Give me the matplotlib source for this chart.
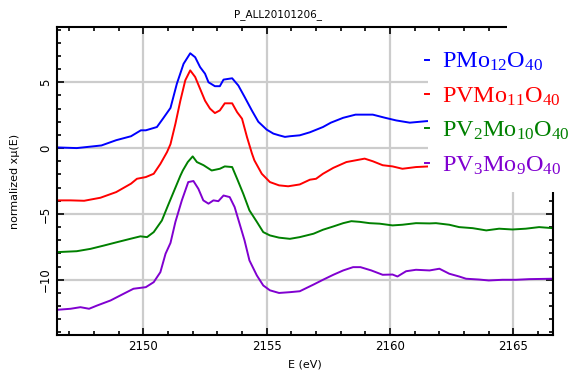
import matplotlib
matplotlib.use("Agg")
import matplotlib.pyplot as plt
from matplotlib.patches import Rectangle
from matplotlib.ticker import MultipleLocator

# values (E in eV, normalized x*mu(E) with offsets)
e_pmo12 = [2146.5, 2147.3, 2148.3, 2148.9, 2149.5, 2149.9, 2150.1, 2150.55, 2150.8,
           2151.1, 2151.36, 2151.63, 2151.9, 2152.1, 2152.3, 2152.5, 2152.64, 2152.9,
           2153.1, 2153.25, 2153.6, 2153.85, 2154.1, 2154.4, 2154.66, 2155.0, 2155.27,
           2155.5, 2155.74, 2155.94, 2156.34, 2156.75, 2157.28, 2157.6, 2158.1, 2158.6,
           2159.3, 2159.8, 2160.25, 2160.8, 2161.5, 2162.5, 2163.5, 2164.5, 2165.5, 2166.6]
mu_pmo12 = [0.05, 0.0, 0.2, 0.6, 0.9, 1.35, 1.35, 1.6, 2.25,
            3.05, 4.9, 6.4, 7.2, 6.9, 6.15, 5.65, 5.0, 4.7,
            4.7, 5.2, 5.3, 4.75, 3.9, 2.85, 2.0, 1.4, 1.1,
            0.97, 0.85, 0.9, 0.97, 1.2, 1.6, 1.93, 2.3, 2.54,
            2.54, 2.3, 2.1, 1.93, 2.05, 2.0, 1.9, 1.9, 1.95, 1.95]

e_pvmo11 = [2146.5, 2147.05, 2147.6, 2148.26, 2148.9, 2149.5, 2149.74, 2150.1, 2150.42,
            2150.69, 2150.96, 2151.1, 2151.3, 2151.5, 2151.7, 2151.9, 2152.1, 2152.3,
            2152.5, 2152.7, 2152.9, 2153.1, 2153.3, 2153.6, 2153.8, 2154.0, 2154.2,
            2154.4, 2154.5, 2154.8, 2155.13, 2155.5, 2155.87, 2156.34, 2156.75, 2157.0,
            2157.28, 2157.7, 2158.23, 2158.6, 2158.97, 2159.3, 2159.7, 2160.1, 2160.5,
            2161.05, 2161.6, 2162.5, 2163.5, 2164.5, 2165.5, 2166.6]
mu_pvmo11 = [-3.97, -3.97, -4.0, -3.77, -3.34, -2.7, -2.33, -2.2, -1.95,
             -1.2, -0.3, 0.3, 1.85, 3.6, 5.15, 5.9, 5.4, 4.5,
             3.6, 3.0, 2.66, 2.86, 3.4, 3.4, 2.73, 2.23, 0.84,
             -0.4, -0.93, -1.95, -2.58, -2.83, -2.9, -2.76, -2.4, -2.33,
             -1.95, -1.5, -1.06, -0.93, -0.8, -1.0, -1.3, -1.39, -1.57,
             -1.44, -1.39, -1.45, -1.5, -1.5, -1.45, -1.45]

e_pv2mo10 = [2146.5, 2147.3, 2147.86, 2148.4, 2148.94, 2149.47, 2149.88, 2150.15, 2150.42,
             2150.75, 2151.0, 2151.3, 2151.5, 2151.6, 2151.8, 2152.0, 2152.17, 2152.44,
             2152.77, 2153.1, 2153.3, 2153.6, 2153.8, 2154.05, 2154.3, 2154.6, 2154.86,
             2155.13, 2155.5, 2155.94, 2156.34, 2156.9, 2157.28, 2157.7, 2158.1, 2158.43,
             2158.77, 2159.17, 2159.58, 2160.1, 2160.5, 2161.05, 2161.6, 2161.86, 2162.4,
             2162.8, 2163.35, 2163.9, 2164.42, 2164.96, 2165.5, 2166.04, 2166.6]
mu_pv2mo10 = [-7.9, -7.83, -7.65, -7.4, -7.14, -6.89, -6.7, -6.76, -6.38,
              -5.5, -4.35, -3.0, -2.1, -1.7, -1.06, -0.63, -1.06, -1.3,
              -1.7, -1.57, -1.39, -1.44, -2.33, -3.47, -4.73, -5.6, -6.38,
              -6.63, -6.8, -6.89, -6.76, -6.5, -6.2, -5.95, -5.7, -5.55,
              -5.6, -5.7, -5.74, -5.87, -5.82, -5.7, -5.72, -5.7, -5.82,
              -6.0, -6.08, -6.25, -6.12, -6.18, -6.12, -6.0, -6.08]

e_pv3mo9 = [2146.5, 2147.05, 2147.45, 2147.8, 2148.13, 2148.67, 2149.2, 2149.6, 2150.1,
            2150.42, 2150.69, 2150.9, 2151.1, 2151.3, 2151.56, 2151.82, 2152.03, 2152.23,
            2152.43, 2152.64, 2152.84, 2153.04, 2153.25, 2153.5, 2153.7, 2153.9, 2154.1,
            2154.3, 2154.6, 2154.86, 2155.13, 2155.5, 2155.94, 2156.34, 2156.9, 2157.28,
            2157.7, 2158.1, 2158.5, 2158.8, 2159.24, 2159.7, 2160.1, 2160.3, 2160.65,
            2161.05, 2161.6, 2162.0, 2162.4, 2162.8, 2163.08, 2163.6, 2164.0, 2164.56,
            2165.1, 2165.64, 2166.6]
mu_pv3mo9 = [-12.28, -12.2, -12.08, -12.2, -11.95, -11.57, -11.06, -10.68, -10.56,
             -10.18, -9.42, -8.02, -7.2, -5.6, -3.97, -2.58, -2.5, -3.09,
             -3.97, -4.22, -3.97, -4.03, -3.6, -3.72, -4.48, -5.74, -7.0,
             -8.53, -9.67, -10.43, -10.8, -11.0, -10.94, -10.87, -10.36, -10.0,
             -9.62, -9.29, -9.04, -9.04, -9.29, -9.62, -9.6, -9.75, -9.35,
             -9.24, -9.29, -9.16, -9.54, -9.75, -9.92, -9.98, -10.05, -10.0,
             -10.0, -9.95, -9.92]

labels = [r"PMo$_{12}$O$_{40}$", r"PVMo$_{11}$O$_{40}$",
          r"PV$_{2}$Mo$_{10}$O$_{40}$", r"PV$_{3}$Mo$_{9}$O$_{40}$"]
colors = ["#0000ff", "#ff0000", "#008000", "#8000d0"]

plt.rcParams["mathtext.fontset"] = "custom"
plt.rcParams["mathtext.rm"] = "Liberation Serif"
plt.rcParams["mathtext.it"] = "Liberation Serif"

fig = plt.figure(figsize=(5.7, 3.74), dpi=100)
ax = fig.add_axes([0.1, 0.104, 0.87, 0.824])

series = [(e_pmo12, mu_pmo12), (e_pvmo11, mu_pvmo11),
          (e_pv2mo10, mu_pv2mo10), (e_pv3mo9, mu_pv3mo9)]
for (e, mu), lab, c in zip(series, labels, colors):
    ax.plot(e, mu, color=c, lw=1.4, label=lab)

ax.set_xlim(2146.5, 2166.6)
ax.set_ylim(-14.2, 9.2)
ax.xaxis.set_major_locator(MultipleLocator(5))
ax.xaxis.set_minor_locator(MultipleLocator(1))
ax.yaxis.set_major_locator(MultipleLocator(5))
ax.yaxis.set_minor_locator(MultipleLocator(1))
ax.grid(True, which="major", color="#cccccc", lw=1.6)
ax.set_axisbelow(True)
ax.tick_params(which="both", direction="in", top=True, right=True, labelsize=8.5, width=1.2)
ax.tick_params(which="major", length=5)
ax.tick_params(which="minor", length=3)
for lbl in ax.get_yticklabels():
    lbl.set_rotation(90)
    lbl.set_va("center")
for s in ax.spines.values():
    s.set_linewidth(1.5)

ax.set_xlabel("E (eV)", fontsize=8, labelpad=5)
ax.set_ylabel("normalized x\u03bc(E)", fontsize=8, labelpad=14)
fig.text(0.488, 0.962, "P_ALL20101206_", fontsize=7.5, ha="center", va="center")

# white block behind the legend, reaching past the right spine
fig.patches.append(Rectangle((428 / 570, 1 - 192 / 374), 142 / 570, 158 / 374,
                             transform=fig.transFigure, facecolor="white",
                             edgecolor="none", zorder=3))
fig.patches.append(Rectangle((507 / 570, 1 - 36 / 374), 63 / 570, 12 / 374,
                             transform=fig.transFigure, facecolor="white",
                             edgecolor="none", zorder=3))

leg = fig.legend(loc="upper left", bbox_to_anchor=(425 / 570, 1 - 51 / 374),
                 frameon=False, handlelength=0.15, handletextpad=0.55,
                 labelspacing=0.5, borderpad=0, borderaxespad=0,
                 prop={"family": "Liberation Serif", "size": 17.5})
leg.set_zorder(4)
for t, c in zip(leg.get_texts(), colors):
    t.set_color(c)

fig.savefig("out.png", dpi=100)
